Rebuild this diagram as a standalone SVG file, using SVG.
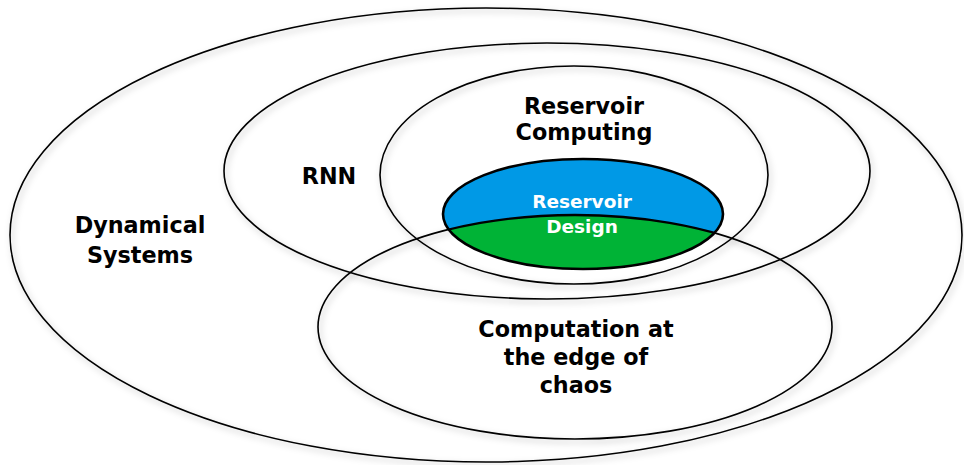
<svg xmlns="http://www.w3.org/2000/svg" width="964" height="465" viewBox="0 0 964 465">
  <defs>
    <filter id="soft-shadow" x="-10%" y="-10%" width="120%" height="125%">
      <feDropShadow dx="2" dy="3" stdDeviation="3" flood-color="#000" flood-opacity="0.28"/>
    </filter>
    <clipPath id="design-clip">
      <ellipse cx="583" cy="214" rx="140" ry="55"/>
    </clipPath>
  </defs>
  <style>
    .ring { fill: none; stroke: #000; stroke-width: 1.6; }
    .label { font-family: "DejaVu Sans", "Liberation Sans", sans-serif; font-weight: 700; text-anchor: middle; fill: #000; }
    .big { font-size: 22.3px; }
    .small { font-size: 18.5px; fill: #fff; }
  </style>
  <rect width="964" height="465" fill="#fff"/>

  <g id="dynamical-systems">
    <ellipse class="ring" cx="486" cy="235" rx="476" ry="227" filter="url(#soft-shadow)"/>
    <text class="label big" x="140" y="233">Dynamical</text>
    <text class="label big" x="140" y="263">Systems</text>
  </g>

  <g id="rnn">
    <ellipse class="ring" cx="547" cy="171" rx="323" ry="128" filter="url(#soft-shadow)"/>
    <text class="label big" x="329" y="184">RNN</text>
  </g>

  <g id="reservoir-computing">
    <ellipse class="ring" cx="574" cy="175" rx="194" ry="109" filter="url(#soft-shadow)"/>
    <text class="label big" x="584" y="114">Reservoir</text>
    <text class="label big" x="584" y="140">Computing</text>
  </g>

  <g id="edge-of-chaos">
    <ellipse class="ring" cx="575" cy="327" rx="257" ry="112" filter="url(#soft-shadow)"/>
    <text class="label big" x="576" y="337">Computation at</text>
    <text class="label big" x="576" y="365">the edge of</text>
    <text class="label big" x="576" y="393">chaos</text>
  </g>

  <g id="reservoir-design">
    <ellipse cx="583" cy="214" rx="140" ry="55" fill="#0099e6"/>
    <ellipse cx="575" cy="327" rx="257" ry="112" fill="#00b336" clip-path="url(#design-clip)"/>
    <ellipse cx="575" cy="327" rx="257" ry="112" fill="none" stroke="#000" stroke-width="2.4" clip-path="url(#design-clip)"/>
    <ellipse cx="583" cy="214" rx="140" ry="55" fill="none" stroke="#000" stroke-width="2.6"/>
    <text class="label small" x="582" y="208">Reservoir</text>
    <text class="label small" x="582" y="233">Design</text>
  </g>
</svg>
